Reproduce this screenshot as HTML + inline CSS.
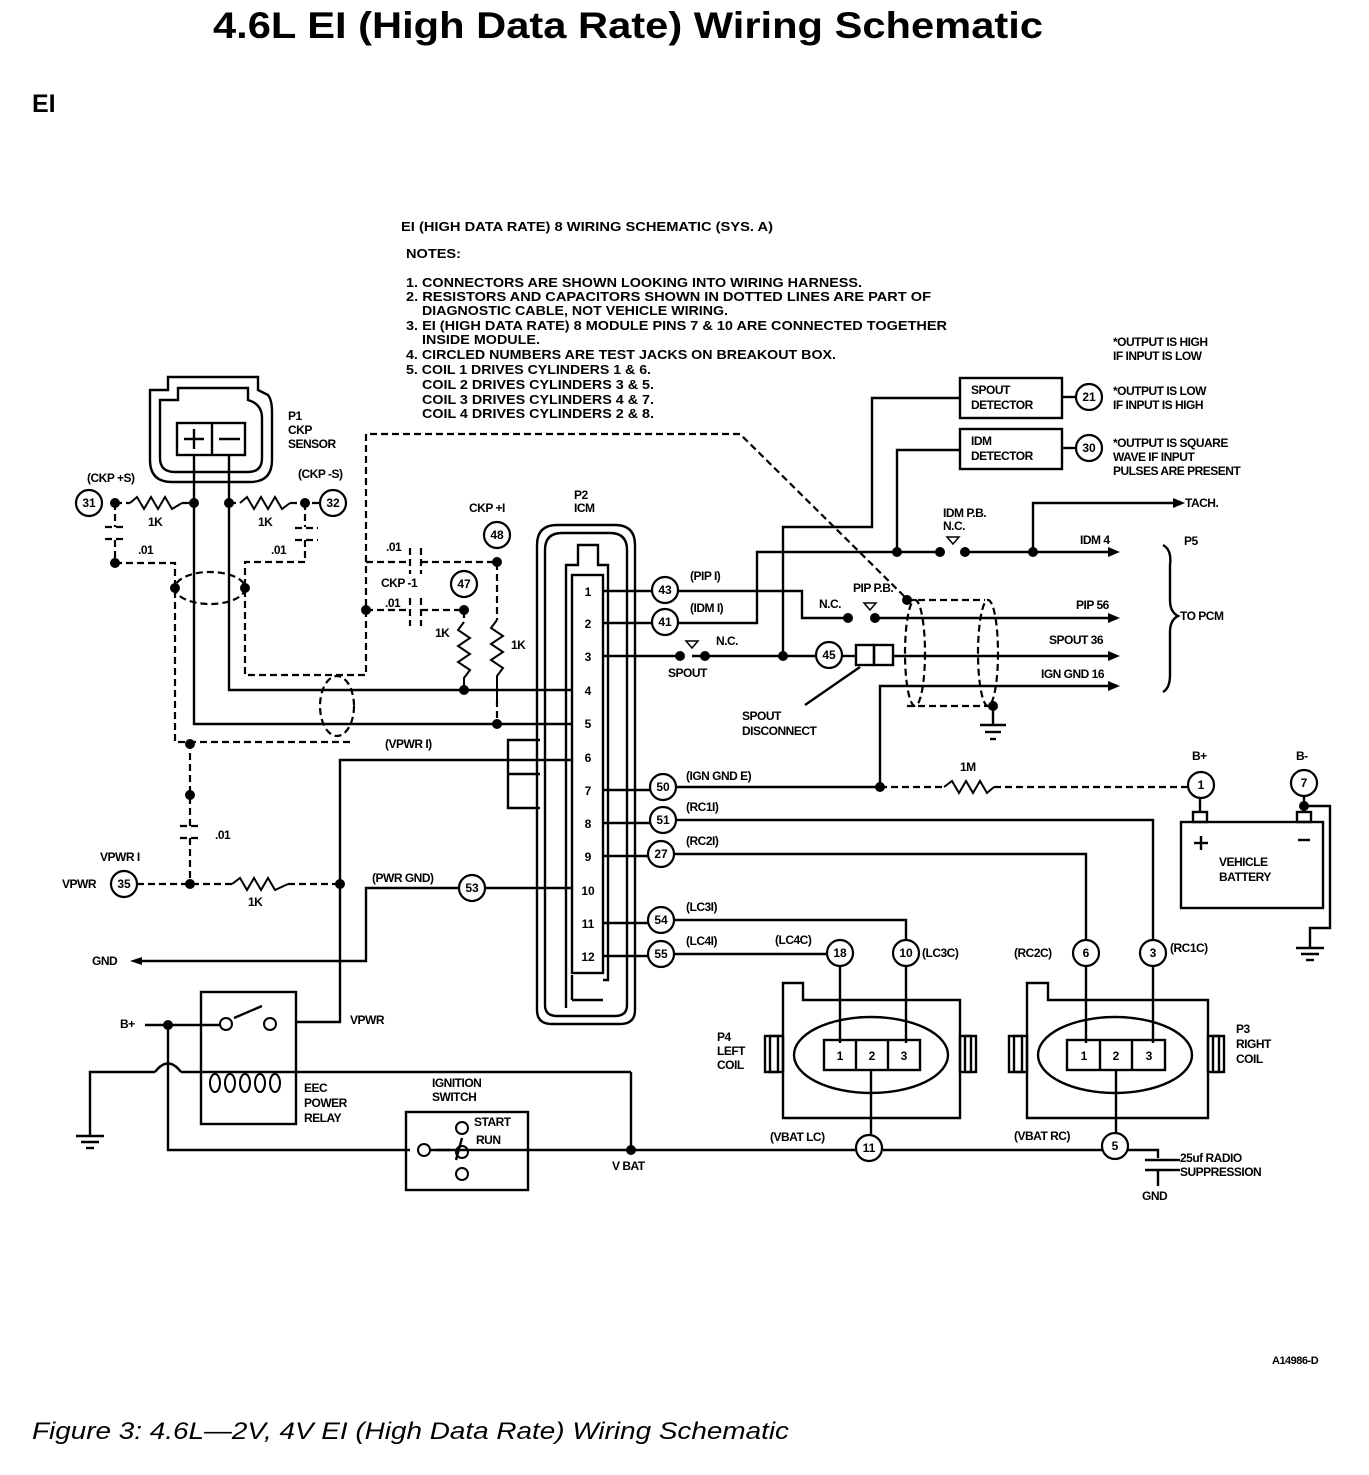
<!DOCTYPE html>
<html><head><meta charset="utf-8"><style>
html,body{margin:0;padding:0;background:#fff}
svg{display:block}
text{font-family:"Liberation Sans",Arial,sans-serif;font-weight:bold;fill:#000}
</style></head><body>
<svg width="1369" height="1475" viewBox="0 0 1369 1475" xmlns="http://www.w3.org/2000/svg">
<text x="213" y="38" font-size="37" textLength="830" lengthAdjust="spacingAndGlyphs">4.6L EI (High Data Rate) Wiring Schematic</text>
<text x="32" y="112" font-size="25">EI</text>

<g font-size="12.5">
<text x="401" y="231" textLength="372" lengthAdjust="spacingAndGlyphs">EI (HIGH DATA RATE) 8 WIRING SCHEMATIC (SYS. A)</text>
<text x="406" y="258" textLength="55" lengthAdjust="spacingAndGlyphs">NOTES:</text>
<text x="406" y="287" textLength="456" lengthAdjust="spacingAndGlyphs">1. CONNECTORS ARE SHOWN LOOKING INTO WIRING HARNESS.</text>
<text x="406" y="301" textLength="525" lengthAdjust="spacingAndGlyphs">2. RESISTORS AND CAPACITORS  SHOWN IN DOTTED LINES ARE PART OF</text>
<text x="422" y="315" textLength="306" lengthAdjust="spacingAndGlyphs">DIAGNOSTIC CABLE, NOT VEHICLE WIRING.</text>
<text x="406" y="330" textLength="541" lengthAdjust="spacingAndGlyphs">3. EI (HIGH DATA RATE) 8 MODULE PINS 7 &amp; 10 ARE CONNECTED TOGETHER</text>
<text x="422" y="344" textLength="118" lengthAdjust="spacingAndGlyphs">INSIDE MODULE.</text>
<text x="406" y="359" textLength="430" lengthAdjust="spacingAndGlyphs">4. CIRCLED NUMBERS ARE TEST JACKS ON BREAKOUT BOX.</text>
<text x="406" y="374" textLength="245" lengthAdjust="spacingAndGlyphs">5. COIL 1 DRIVES CYLINDERS 1 &amp; 6.</text>
<text x="422" y="389" textLength="232" lengthAdjust="spacingAndGlyphs">COIL 2 DRIVES CYLINDERS 3 &amp; 5.</text>
<text x="422" y="404" textLength="232" lengthAdjust="spacingAndGlyphs">COIL 3 DRIVES CYLINDERS 4 &amp; 7.</text>
<text x="422" y="418" textLength="232" lengthAdjust="spacingAndGlyphs">COIL 4 DRIVES CYLINDERS 2 &amp; 8.</text>
</g>

<g stroke="#000" stroke-width="2.4" fill="none">
<path d="M150 390 L168 390 L168 377 L258 377 L258 390 L268 395 Q272 400 272 412 L272 460 Q272 482 250 482 L172 482 Q150 482 150 460 Z"/>
<path d="M160 400 L178 400 L178 388 L248 388 L248 400 Q262 404 262 418 L262 458 Q262 472 248 472 L175 472 Q160 472 160 458 Z"/>
<rect x="177" y="423" width="68" height="32"/>
<line x1="212" y1="423" x2="212" y2="455"/>
<line x1="184" y1="439" x2="204" y2="439"/><line x1="194" y1="429" x2="194" y2="449"/>
<line x1="219" y1="439" x2="240" y2="439"/>
<polyline points="194,455 194,724 572,724"/>
<polyline points="229,455 229,690 572,690"/>
<path d="M537 1010 L537 545 Q537 525 557 525 L615 525 Q635 525 635 545 L635 1010 Q635 1024 620 1024 L552 1024 Q537 1024 537 1010 Z"/>
<path d="M545 1005 L545 550 Q545 533 562 533 L610 533 Q627 533 627 550 L627 1005 Q627 1016 615 1016 L557 1016 Q545 1016 545 1005 Z"/>
<path d="M572 1000 L572 975 M603 1000 L572 1000 M566 1008 L566 565 L578 565 L578 545 L598 545 L598 565 L608 565 L608 980 L603 980"/>
<rect x="572" y="575" width="31" height="398"/>
<line x1="603" y1="591" x2="652" y2="591"/>
<line x1="603" y1="623" x2="652" y2="623"/>
<line x1="603" y1="656" x2="680" y2="656"/>
<line x1="603" y1="790" x2="650" y2="790"/>
<line x1="603" y1="823" x2="650" y2="823"/>
<line x1="603" y1="856" x2="648" y2="856"/>
<line x1="603" y1="923" x2="648" y2="923"/>
<line x1="603" y1="956" x2="648" y2="956"/>
<polyline points="540,740 508,740 508,808 540,808"/>
<line x1="508" y1="774" x2="540" y2="774"/>
<polyline points="678,591 802,591 802,618 848,618"/>
<line x1="875" y1="618" x2="1110" y2="618"/>
<polyline points="678,623 757,623 757,552 940,552"/>
<line x1="965" y1="552" x2="1110" y2="552"/>
<polyline points="897,552 897,450 960,450"/>
<polyline points="1033,552 1033,503 1175,503"/>
<polyline points="783,656 783,527 872,527 872,398 960,398"/>
<line x1="692" y1="656" x2="816" y2="656"/>
<line x1="842" y1="656" x2="856" y2="656"/>
<line x1="893" y1="656" x2="1110" y2="656"/>
<rect x="856" y="645" width="18" height="20"/><rect x="874" y="645" width="19" height="20"/>
<line x1="805" y1="705" x2="860" y2="667"/>
<polyline points="880,787 880,686 1110,686"/>
<line x1="676" y1="787" x2="880" y2="787"/>
<rect x="960" y="378" width="102" height="40"/>
<rect x="960" y="429" width="102" height="40"/>
<line x1="1062" y1="397" x2="1076" y2="397"/>
<line x1="1062" y1="448" x2="1076" y2="448"/>
<path d="M1163 545 Q1172 550 1170 565 L1170 600 Q1170 612 1178 616 Q1170 620 1170 632 L1170 675 Q1170 688 1163 692"/>
<polyline points="676,820 1153,820 1153,940"/>
<polyline points="674,854 1086,854 1086,940"/>
<polyline points="674,920 906,920 906,940"/>
<line x1="674" y1="954" x2="827" y2="954"/>
<line x1="840" y1="966" x2="840" y2="1043"/>
<line x1="906" y1="966" x2="906" y2="1043"/>
<line x1="1086" y1="966" x2="1086" y2="1043"/>
<line x1="1153" y1="966" x2="1153" y2="1043"/>
<path d="M783 1118 L783 983 L803 983 L803 1000 L960 1000 L960 1118 Z"/>
<rect x="765" y="1036" width="18" height="36"/><rect x="770" y="1036" width="8" height="36"/>
<rect x="960" y="1036" width="16" height="36"/><rect x="965" y="1036" width="6" height="36"/>
<ellipse cx="871" cy="1055" rx="77" ry="38"/>
<rect x="824" y="1040" width="96" height="30"/>
<line x1="856" y1="1040" x2="856" y2="1070"/><line x1="888" y1="1040" x2="888" y2="1070"/>
<line x1="871" y1="1070" x2="871" y2="1134"/>
<path d="M1027 1118 L1027 983 L1048 983 L1048 1000 L1208 1000 L1208 1118 Z"/>
<rect x="1009" y="1036" width="18" height="36"/><rect x="1014" y="1036" width="8" height="36"/>
<rect x="1208" y="1036" width="16" height="36"/><rect x="1213" y="1036" width="6" height="36"/>
<ellipse cx="1115" cy="1055" rx="77" ry="38"/>
<rect x="1067" y="1040" width="98" height="30"/>
<line x1="1100" y1="1040" x2="1100" y2="1070"/><line x1="1132" y1="1040" x2="1132" y2="1070"/>
<line x1="1116" y1="1070" x2="1116" y2="1132"/>
<polyline points="168,1025 168,1150 410,1150"/>
<line x1="430" y1="1150" x2="855" y2="1150"/>
<line x1="883" y1="1150" x2="1102" y2="1150"/>
<polyline points="1128,1150 1158,1150 1158,1158"/>
<line x1="1145" y1="1160" x2="1172" y2="1160"/>
<line x1="1145" y1="1170" x2="1172" y2="1170"/>
<line x1="1158" y1="1170" x2="1158" y2="1186"/>
<line x1="1172" y1="1160" x2="1180" y2="1160"/>
<line x1="1172" y1="1170" x2="1180" y2="1170"/>
<rect x="1181" y="822" width="142" height="86"/>
<rect x="1193" y="812" width="14" height="10"/><rect x="1297" y="812" width="14" height="10"/>
<line x1="1200" y1="798" x2="1200" y2="812"/><line x1="1304" y1="796" x2="1304" y2="812"/>
<line x1="1194" y1="843" x2="1208" y2="843"/><line x1="1201" y1="836" x2="1201" y2="850"/>
<line x1="1298" y1="840" x2="1310" y2="840"/>
<polyline points="1304,806 1330,806 1330,928 1310,928 1310,948"/>
<line x1="1296" y1="948" x2="1324" y2="948"/><line x1="1301" y1="954" x2="1319" y2="954"/><line x1="1306" y1="960" x2="1314" y2="960"/>
<line x1="993" y1="706" x2="993" y2="725"/>
<line x1="980" y1="725" x2="1006" y2="725"/><line x1="985" y1="732" x2="1001" y2="732"/><line x1="990" y1="739" x2="996" y2="739"/>
<polyline points="340,884 340,760 572,760"/>
<polyline points="340,884 340,1022 296,1022"/>
<polyline points="459,888 366,888 366,961 140,961"/>
<line x1="485" y1="888" x2="572" y2="888"/>
<rect x="201" y="992" width="95" height="132"/>
<line x1="145" y1="1025" x2="220" y2="1025"/>
<line x1="234" y1="1018" x2="262" y2="1006"/>
<polyline points="90,1135 90,1072 155,1072"/>
<path d="M155 1072 Q168 1055 181 1072"/>
<line x1="181" y1="1072" x2="631" y2="1072"/>
<line x1="631" y1="1072" x2="631" y2="1150"/>
<line x1="76" y1="1136" x2="104" y2="1136"/><line x1="81" y1="1142" x2="99" y2="1142"/><line x1="86" y1="1148" x2="94" y2="1148"/>
<rect x="406" y="1112" width="122" height="78"/>
<line x1="436" y1="1150" x2="450" y2="1150"/>
<line x1="462" y1="1138" x2="456" y2="1160"/>
</g>
<g stroke="#000" stroke-width="2" fill="none">
<ellipse cx="215" cy="1083" rx="5" ry="9"/><ellipse cx="230" cy="1083" rx="5" ry="9"/><ellipse cx="245" cy="1083" rx="5" ry="9"/><ellipse cx="260" cy="1083" rx="5" ry="9"/><ellipse cx="275" cy="1083" rx="5" ry="9"/>
<circle cx="226" cy="1024" r="6"/><circle cx="270" cy="1024" r="6"/>
<circle cx="424" cy="1150" r="6"/><circle cx="462" cy="1128" r="6"/><circle cx="462" cy="1152" r="6"/><circle cx="462" cy="1174" r="6"/>
</g>

<g stroke="#000" stroke-width="2.2" fill="none" stroke-dasharray="7,4">
<polyline points="115,563 175,563 175,742 350,742"/>
<polyline points="305,503 305,527"/>
<polyline points="305,540 305,562 245,562 245,675 366,675 366,434 740,434 906,598"/>
<ellipse cx="210" cy="588" rx="35" ry="16"/>
<ellipse cx="337" cy="706" rx="17" ry="30"/>
<polyline points="366,562 410,562"/><polyline points="421,562 497,562 497,620"/>
<polyline points="366,610 410,610"/><polyline points="421,610 464,610 464,622"/>
<line x1="497" y1="700" x2="497" y2="722"/>
<polyline points="190,742 190,826"/><polyline points="190,838 190,884"/>
<line x1="137" y1="884" x2="232" y2="884"/><line x1="288" y1="884" x2="340" y2="884"/>
<line x1="115" y1="503" x2="130" y2="503"/><line x1="182" y1="503" x2="194" y2="503"/>
<line x1="229" y1="503" x2="240" y2="503"/><line x1="290" y1="503" x2="320" y2="503"/>
<line x1="115" y1="503" x2="115" y2="527"/><line x1="115" y1="540" x2="115" y2="563"/>
<line x1="880" y1="787" x2="944" y2="787"/><line x1="994" y1="787" x2="1188" y2="787"/>
<line x1="907" y1="600" x2="985" y2="600"/><line x1="907" y1="706" x2="993" y2="706"/>
<ellipse cx="915" cy="653" rx="10" ry="53"/>
<ellipse cx="988" cy="653" rx="10" ry="53"/>
<line x1="105" y1="527" x2="127" y2="527"/><line x1="105" y1="539" x2="127" y2="539"/>
<line x1="295" y1="528" x2="318" y2="528"/><line x1="295" y1="540" x2="318" y2="540"/>
<line x1="410" y1="548" x2="410" y2="574"/><line x1="421" y1="548" x2="421" y2="574"/>
<line x1="410" y1="598" x2="410" y2="626"/><line x1="421" y1="598" x2="421" y2="626"/>
<line x1="180" y1="826" x2="202" y2="826"/><line x1="180" y1="838" x2="202" y2="838"/>
</g>
<g stroke="#000" stroke-width="2" fill="none">
<polyline points="130,503 137,497 144,509 151,497 158,509 165,497 172,509 182,503"/>
<polyline points="240,503 247,497 254,509 261,497 268,509 275,497 282,509 290,503"/>
<polyline points="464,622 458,630 470,638 458,646 470,654 458,662 470,670 464,678 464,690"/>
<polyline points="497,620 491,628 503,636 491,644 503,652 491,660 503,668 497,676 497,700"/>
<polyline points="232,884 240,878 247,890 254,878 261,890 268,878 275,890 288,884"/>
<polyline points="944,787 952,781 959,793 966,781 973,793 980,781 987,793 994,787"/>
</g>
<g fill="#000">
<polygon points="1120,552 1108,547 1108,557"/>
<polygon points="1120,618 1108,613 1108,623"/>
<polygon points="1120,656 1108,651 1108,661"/>
<polygon points="1120,686 1108,681 1108,691"/>
<polygon points="1185,503 1173,498 1173,508"/>
<polygon points="130,961 142,957 142,965"/>
<polygon points="953,544 947,537 959,537" fill="none" stroke="#000" stroke-width="1.5"/>
<polygon points="870,610 864,603 876,603" fill="none" stroke="#000" stroke-width="1.5"/>
<polygon points="692,648 686,641 698,641" fill="none" stroke="#000" stroke-width="1.5"/>
</g>
<g fill="#000">
<circle cx="115" cy="503" r="5"/><circle cx="194" cy="503" r="5"/><circle cx="229" cy="503" r="5"/><circle cx="305" cy="503" r="5"/>
<circle cx="115" cy="563" r="5"/><circle cx="175" cy="588" r="5"/><circle cx="245" cy="588" r="5"/>
<circle cx="190" cy="744" r="5"/><circle cx="190" cy="795" r="5"/><circle cx="190" cy="884" r="5"/><circle cx="340" cy="884" r="5"/>
<circle cx="366" cy="610" r="5"/><circle cx="497" cy="562" r="5"/><circle cx="464" cy="610" r="5"/>
<circle cx="464" cy="690" r="5"/><circle cx="497" cy="724" r="5"/>
<circle cx="680" cy="656" r="5"/><circle cx="705" cy="656" r="5"/><circle cx="783" cy="656" r="5"/>
<circle cx="848" cy="618" r="5"/><circle cx="875" cy="618" r="5"/><circle cx="907" cy="600" r="5"/>
<circle cx="897" cy="552" r="5"/><circle cx="940" cy="552" r="5"/><circle cx="965" cy="552" r="5"/><circle cx="1033" cy="552" r="5"/>
<circle cx="880" cy="787" r="5"/><circle cx="993" cy="706" r="5"/><circle cx="1304" cy="806" r="5"/>
<circle cx="168" cy="1025" r="5"/><circle cx="631" cy="1150" r="5"/>
</g>
<g stroke="#000" stroke-width="2.2" fill="#fff">
<circle cx="89" cy="503" r="13"/><circle cx="333" cy="503" r="13"/><circle cx="497" cy="535" r="13"/><circle cx="464" cy="584" r="13"/>
<circle cx="665" cy="590" r="13"/><circle cx="665" cy="622" r="13"/><circle cx="829" cy="655" r="13"/>
<circle cx="663" cy="787" r="13"/><circle cx="663" cy="820" r="13"/><circle cx="661" cy="854" r="13"/>
<circle cx="472" cy="888" r="13"/><circle cx="661" cy="920" r="13"/><circle cx="661" cy="954" r="13"/>
<circle cx="840" cy="953" r="13"/><circle cx="906" cy="953" r="13"/><circle cx="1086" cy="953" r="13"/><circle cx="1153" cy="953" r="13"/>
<circle cx="869" cy="1148" r="13"/><circle cx="1115" cy="1146" r="13"/>
<circle cx="1201" cy="785" r="13"/><circle cx="1304" cy="783" r="13"/><circle cx="124" cy="884" r="13"/>
<circle cx="1089" cy="397" r="13"/><circle cx="1089" cy="448" r="13"/>
</g>
<g font-size="12" text-anchor="middle">
<text x="89" y="507">31</text><text x="333" y="507">32</text><text x="497" y="539">48</text><text x="464" y="588">47</text>
<text x="665" y="594">43</text><text x="665" y="626">41</text><text x="829" y="659">45</text>
<text x="663" y="791">50</text><text x="663" y="824">51</text><text x="661" y="858">27</text>
<text x="472" y="892">53</text><text x="661" y="924">54</text><text x="661" y="958">55</text>
<text x="840" y="957">18</text><text x="906" y="957">10</text><text x="1086" y="957">6</text><text x="1153" y="957">3</text>
<text x="869" y="1152">11</text><text x="1115" y="1150">5</text>
<text x="1201" y="789">1</text><text x="1304" y="787">7</text><text x="124" y="888">35</text>
<text x="1089" y="401">21</text><text x="1089" y="452">30</text>
<text x="588" y="596">1</text><text x="588" y="628">2</text><text x="588" y="661">3</text><text x="588" y="695">4</text>
<text x="588" y="728">5</text><text x="588" y="762">6</text><text x="588" y="795">7</text><text x="588" y="828">8</text>
<text x="588" y="861">9</text><text x="588" y="895">10</text><text x="588" y="928">11</text><text x="588" y="961">12</text>
<text x="840" y="1060">1</text><text x="872" y="1060">2</text><text x="904" y="1060">3</text>
<text x="1084" y="1060">1</text><text x="1116" y="1060">2</text><text x="1149" y="1060">3</text>
</g>
<g font-size="12" letter-spacing="-0.5">
<text x="288" y="420">P1</text><text x="288" y="434">CKP</text><text x="288" y="448">SENSOR</text>
<text x="87" y="482">(CKP +S)</text><text x="298" y="478">(CKP -S)</text>
<text x="148" y="526">1K</text><text x="258" y="526">1K</text>
<text x="138" y="554">.01</text><text x="271" y="554">.01</text>
<text x="386" y="551">.01</text><text x="381" y="587">CKP -1</text><text x="385" y="607">.01</text>
<text x="469" y="512">CKP +I</text>
<text x="435" y="637">1K</text><text x="511" y="649">1K</text>
<text x="574" y="499">P2</text><text x="574" y="512">ICM</text>
<text x="385" y="748">(VPWR I)</text>
<text x="100" y="861">VPWR I</text><text x="62" y="888">VPWR</text><text x="215" y="839">.01</text><text x="248" y="906">1K</text>
<text x="372" y="882">(PWR GND)</text>
<text x="92" y="965">GND</text>
<text x="120" y="1028">B+</text><text x="350" y="1024">VPWR</text>
<text x="304" y="1092">EEC</text><text x="304" y="1107">POWER</text><text x="304" y="1122">RELAY</text>
<text x="432" y="1087">IGNITION</text><text x="432" y="1101">SWITCH</text>
<text x="474" y="1126">START</text><text x="476" y="1144">RUN</text>
<text x="612" y="1170">V BAT</text>
<text x="690" y="580">(PIP I)</text><text x="690" y="612">(IDM I)</text>
<text x="716" y="645">N.C.</text><text x="668" y="677">SPOUT</text>
<text x="742" y="720">SPOUT</text><text x="742" y="735">DISCONNECT</text>
<text x="819" y="608">N.C.</text><text x="853" y="592">PIP P.B.</text>
<text x="943" y="517">IDM P.B.</text><text x="943" y="530">N.C.</text>
<text x="1080" y="544">IDM 4</text><text x="1185" y="507">TACH.</text><text x="1184" y="545">P5</text>
<text x="1076" y="609">PIP 56</text><text x="1180" y="620">TO PCM</text>
<text x="1049" y="644">SPOUT 36</text><text x="1041" y="678">IGN GND 16</text>
<text x="971" y="394">SPOUT</text><text x="971" y="409">DETECTOR</text>
<text x="971" y="445">IDM</text><text x="971" y="460">DETECTOR</text>
<text x="1113" y="346">*OUTPUT IS HIGH</text><text x="1113" y="360">IF INPUT IS LOW</text>
<text x="1113" y="395">*OUTPUT IS LOW</text><text x="1113" y="409">IF INPUT IS HIGH</text>
<text x="1113" y="447">*OUTPUT IS SQUARE</text><text x="1113" y="461">WAVE IF INPUT</text><text x="1113" y="475">PULSES ARE PRESENT</text>
<text x="686" y="780">(IGN GND E)</text><text x="686" y="811">(RC1I)</text><text x="686" y="845">(RC2I)</text>
<text x="686" y="911">(LC3I)</text><text x="686" y="945">(LC4I)</text>
<text x="960" y="771">1M</text>
<text x="1192" y="760">B+</text><text x="1296" y="760">B-</text>
<text x="1219" y="866">VEHICLE</text><text x="1219" y="881">BATTERY</text>
<text x="775" y="944">(LC4C)</text><text x="922" y="957">(LC3C)</text>
<text x="1014" y="957">(RC2C)</text><text x="1170" y="952">(RC1C)</text>
<text x="717" y="1041">P4</text><text x="717" y="1055">LEFT</text><text x="717" y="1069">COIL</text>
<text x="1236" y="1033">P3</text><text x="1236" y="1048">RIGHT</text><text x="1236" y="1063">COIL</text>
<text x="770" y="1141">(VBAT LC)</text><text x="1014" y="1140">(VBAT RC)</text>
<text x="1180" y="1162">25uf RADIO</text><text x="1180" y="1176">SUPPRESSION</text><text x="1142" y="1200">GND</text>
<text x="1272" y="1364" font-size="11">A14986-D</text>
</g>
<text x="32" y="1439" font-size="24" font-style="italic" textLength="757" lengthAdjust="spacingAndGlyphs" style="font-weight:normal">Figure 3: 4.6L—2V, 4V EI (High Data Rate) Wiring Schematic</text>
</svg>
</body></html>
